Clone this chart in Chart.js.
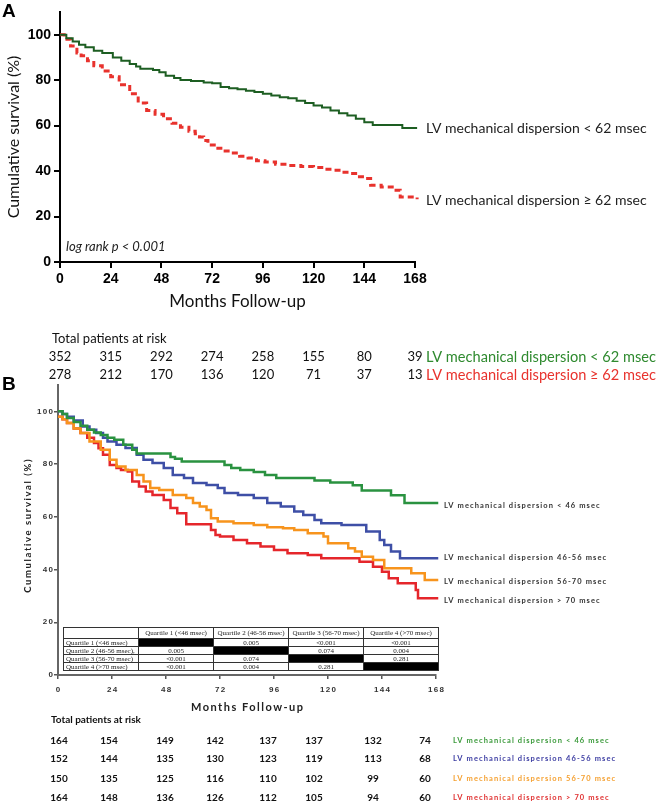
<!DOCTYPE html>
<html><head><meta charset="utf-8">
<script src="https://cdn.jsdelivr.net/npm/chart.js@4.4.1/dist/chart.umd.min.js"></script>
<style>
html,body{margin:0;padding:0;background:#fff;}
#wrap{position:relative;width:661px;height:807px;overflow:hidden;background:#fff;}
#ca{position:absolute;left:0;top:0;}
#cb{position:absolute;left:0;top:370px;}
#ptab{position:absolute;left:63px;top:627px;width:375px;border-collapse:collapse;table-layout:fixed;font-family:"Liberation Serif","Times New Roman",serif;font-size:7px;color:#222;}
#ptab td{border:1px solid #333;padding:0;text-align:center;line-height:6px;overflow:hidden;white-space:nowrap;}
#ptab td.rl{text-align:left;padding-left:2px;}
#ptab td.blk{background:#000;}
</style></head>
<body>
<div id="wrap">
<canvas id="ca" width="661" height="392"></canvas>
<canvas id="cb" width="661" height="437"></canvas>
<table id="ptab"></table>
</div>
<script>
// ---------- DATA ----------
const riskTimes = [0, 24, 48, 72, 96, 120, 144, 168];
const yTicks = [0, 20, 40, 60, 80, 100];

// Panel A
const aNames = ['LV mechanical dispersion < 62 msec', 'LV mechanical dispersion \u2265 62 msec'];
const aLowT = [0, 3, 6, 9, 12, 16, 20, 25, 29, 33, 36, 38, 44, 47, 50, 54, 57, 62, 68, 72, 76, 80, 84, 88, 92, 96, 100, 104, 108, 112, 116, 120, 124, 128, 132, 136, 140, 144, 148, 162, 169];
const aLowS = [100, 98.5, 97, 95.6, 94.5, 93, 92, 90, 88.5, 87.1, 86, 85, 84.5, 83.5, 82, 81, 80.1, 79.6, 79, 78.7, 77, 76.5, 76, 75.4, 74.8, 74, 73.3, 72.5, 72, 71, 70, 68.9, 68, 66.7, 65.5, 64.5, 63, 61.5, 60.3, 59, 59];
const aHighT = [0, 2, 5, 8, 10, 13, 16, 20, 24, 28, 33, 37, 41, 45, 49, 53, 57, 61, 64, 66, 68, 70, 73, 77, 81, 85, 89, 93, 97, 102, 108, 114, 120, 125, 129, 133, 137, 141, 144, 147, 152, 158, 161, 169];
const aHighS = [100, 98, 95, 92, 90.8, 88.5, 86.4, 84, 81.5, 78, 74, 70, 66.7, 65, 63, 61, 59.3, 57.5, 56.4, 55, 53.5, 51.5, 50, 48.8, 48, 46.5, 45.8, 44.5, 44, 43, 42.5, 42, 41.6, 40.8, 40.4, 39.5, 38.9, 37.5, 36.7, 33.8, 33, 31.6, 28.6, 27.6];
const aRiskLow = [352, 315, 292, 274, 258, 155, 80, 39];
const aRiskHigh = [278, 212, 170, 136, 120, 71, 37, 13];

// Panel B
const bNames = ['LV mechanical dispersion < 46 msec', 'LV mechanical dispersion 46-56 msec', 'LV mechanical dispersion 56-70 msec', 'LV mechanical dispersion > 70 msec'];
const bQ1T = [0, 2, 4, 7, 10, 13, 16, 19, 22, 25, 29, 33, 35, 50, 52, 55, 74, 77, 81, 87, 92, 97, 114, 121, 131, 135, 148, 154, 169];
const bQ1S = [100, 99, 97.5, 96, 94.5, 93, 92, 91, 90, 89.2, 87.3, 85.4, 84, 82.7, 82, 81, 79.7, 78.5, 77.8, 77, 75.9, 74.7, 73.8, 73, 72, 70, 68.2, 65.2, 65.2];
const bQ2T = [0, 2, 4, 7, 11, 14, 17, 20, 22, 26, 30, 35, 38, 42, 47, 51, 56, 60, 66, 71, 74, 80, 87, 93, 99, 105, 109, 114, 117, 126, 137, 143, 145, 148, 152, 169];
const bQ2S = [100, 99, 98, 96.5, 94.3, 93, 91.8, 90, 88.6, 87.3, 86.1, 83.5, 81.6, 80.4, 78.5, 75.9, 74.7, 72.8, 72.1, 70.9, 69, 68.3, 67.1, 65.2, 63.9, 62, 60.7, 58.8, 57.6, 56.9, 54.4, 51.2, 49.3, 46.8, 44.3, 44.3];
const bQ3T = [0, 2, 4, 7, 10, 14, 19, 23, 26, 30, 35, 38, 41, 45, 51, 57, 60, 63, 66, 68, 71, 78, 87, 93, 100, 105, 111, 118, 120, 129, 132, 135, 140, 145, 157, 163, 169];
const bQ3S = [98, 97, 95.6, 93.5, 91.8, 88.6, 85.4, 81.6, 79.1, 77.8, 75.9, 73.4, 70.9, 70.2, 68.3, 67.1, 65.2, 63.9, 62.6, 59.5, 58.2, 57.6, 56.9, 56, 55.7, 55, 53.8, 52.5, 50, 48.1, 46.8, 44.9, 43.6, 40.5, 38.6, 36, 36];
const bQ4T = [0, 2, 4, 7, 10, 13, 16, 18, 20, 23, 26, 28, 31, 33, 36, 39, 42, 47, 50, 53, 57, 68, 70, 72, 78, 84, 90, 96, 102, 111, 117, 134, 140, 144, 147, 151, 159, 160, 169];
const bQ4S = [98, 97, 95.6, 93.5, 91.8, 90, 88, 86, 83.5, 79.7, 78.5, 77.8, 77.2, 73.4, 71.5, 69.6, 68.3, 66.4, 63.3, 61.4, 57.2, 55, 53.1, 52.5, 51.2, 50, 48.7, 47.4, 46.2, 45.5, 44.3, 43, 41.1, 39.2, 36.7, 34.8, 32.2, 29.1, 29.1];
const bRiskQ1 = [164, 154, 149, 142, 137, 137, 132, 74];
const bRiskQ2 = [152, 144, 135, 130, 123, 119, 113, 68];
const bRiskQ3 = [150, 135, 125, 116, 110, 102, 99, 60];
const bRiskQ4 = [164, 148, 136, 126, 112, 105, 94, 60];

// p-value table
const quartileCols = ['Quartile 1 (<46 msec)', 'Quartile 2 (46-56 msec)', 'Quartile 3 (56-70 msec)', 'Quartile 4 (>70 msec)'];
const quartileRows = ['Quartile 1 (<46 msec)', 'Quartile 2 (46-56 msec),', 'Quartile 3 (56-70 msec)', 'Quartile 4 (>70 msec)'];
const pValues = [
  [null, '0.005', '<0.001', '<0.001'],
  ['0.005', null, '0.074', '0.004'],
  ['<0.001', '0.074', null, '0.281'],
  ['<0.001', '0.004', '0.281', null]
];

// ---------- STYLE / LAYOUT ----------
const A_GREEN = '#1d5e22', A_RED = '#e8322d';
const A_RISK_GREEN = '#2f8a2f', A_RISK_RED = '#e8322d';
const B_COLORS = ['#2a9240', '#3e4fa6', '#f7941d', '#e5262b'];
const B_RISK_COLORS = ['#3a9a3a', '#3b3ca2', '#f5a030', '#e03030'];
const bRiskColX = [59, 109, 165, 215, 268, 314, 373, 425];
const bRiskRowY = [371, 389, 409, 428];
const bLabelY = [136, 188, 212, 231];

function pts(T, S) { return T.map((t, i) => ({x: t, y: S[i]})); }
function km(label, T, S, color, extra) {
  return Object.assign({label, data: pts(T, S), borderColor: color, backgroundColor: color,
    borderWidth: 2, stepped: 'before', pointRadius: 0, pointHoverRadius: 0, fill: false, clip: false}, extra || {});
}

Chart.defaults.animation = false;

// ---------- PANEL A ----------
const annA = {
  id: 'annA',
  afterDraw(chart) {
    const ctx = chart.ctx, x = chart.scales.x;
    ctx.save();
    ctx.fillStyle = '#000';
    ctx.font = 'bold 19px "Liberation Sans"';
    ctx.textBaseline = 'top';
    ctx.fillText('A', 2, 2);
    ctx.textBaseline = 'middle';
    ctx.fillStyle = '#222';
    ctx.font = 'italic 13px Lato';
    ctx.fillText('log rank p < 0.001', 66, 247);
    ctx.font = '14px Lato';
    ctx.fillText(aNames[0], 426, 128);
    ctx.fillText(aNames[1], 426, 200);
    ctx.font = '13px Lato';
    ctx.fillStyle = '#111';
    ctx.fillText('Total patients at risk', 52, 339);
    ctx.textAlign = 'center';
    riskTimes.forEach((t, i) => {
      const px = x.getPixelForValue(t);
      ctx.fillText(String(aRiskLow[i]), px, 357);
      ctx.fillText(String(aRiskHigh[i]), px, 375);
    });
    ctx.textAlign = 'left';
    ctx.font = '14.6px Lato';
    ctx.fillStyle = A_RISK_GREEN;
    ctx.fillText(aNames[0], 426, 357);
    ctx.fillStyle = A_RISK_RED;
    ctx.fillText(aNames[1], 426, 375);
    ctx.restore();
  }
};

new Chart(document.getElementById('ca'), {
  type: 'line',
  data: {datasets: [
    km(aNames[0], aLowT, aLowS, A_GREEN, {borderWidth: 2}),
    km(aNames[1], aHighT, aHighS, A_RED, {borderWidth: 3, borderDash: [6, 4]})
  ]},
  options: {
    responsive: false, devicePixelRatio: 1, animation: false,
    layout: {padding: {left: 0, top: 12, right: 246, bottom: 80}},
    plugins: {legend: {display: false}, tooltip: {enabled: false}},
    scales: {
      x: {type: 'linear', min: 0, max: 168,
        afterBuildTicks: s => { s.ticks = riskTimes.map(v => ({value: v})); },
        afterFit: s => { s.height = 50; },
        grid: {display: true, drawOnChartArea: false, drawTicks: true, tickLength: 6, color: '#000', lineWidth: 2},
        border: {display: true, color: '#000', width: 2},
        ticks: {color: '#000', font: {family: 'Liberation Sans', weight: 'bold', size: 14}, padding: 3, maxRotation: 0, autoSkip: false},
        title: {display: true, text: 'Months Follow-up', color: '#111', font: {family: 'Lato', size: 17}, padding: {top: 0, bottom: 0}}
      },
      y: {type: 'linear', min: 0, max: 110,
        afterBuildTicks: s => { s.ticks = yTicks.map(v => ({value: v})); },
        afterFit: s => { s.width = 60; },
        grid: {display: true, drawOnChartArea: false, drawTicks: true, tickLength: 6, color: '#000', lineWidth: 2},
        border: {display: true, color: '#000', width: 2},
        ticks: {color: '#000', font: {family: 'Liberation Sans', weight: 'bold', size: 14}, padding: 3},
        title: {display: true, text: 'Cumulative survival (%)', color: '#111', font: {family: 'Lato', size: 16}, padding: {top: 4, bottom: 0}}
      }
    }
  },
  plugins: [annA]
});

// ---------- PANEL B ----------
function spacedWidth(ctx, s, ls) {
  const old = ctx.letterSpacing; ctx.letterSpacing = '0px';
  const w = ctx.measureText(s).width + ls * (s.length - 1);
  ctx.letterSpacing = old; return w;
}
const annB = {
  id: 'annB',
  afterDraw(chart) {
    const ctx = chart.ctx, ca = chart.chartArea, xs = chart.scales.x, ys = chart.scales.y;
    ctx.save();
    ctx.fillStyle = '#000';
    ctx.font = 'bold 19px "Liberation Sans"';
    ctx.textBaseline = 'top';
    ctx.fillText('B', 2, 5);
    ctx.textBaseline = 'middle';
    ctx.textAlign = 'left';
    // tick labels (letter-spaced), positioned by the scales
    ctx.fillStyle = '#333';
    ctx.font = 'bold 8px "Liberation Sans"';
    const ls = 1.3;
    ctx.letterSpacing = ls + 'px';
    yTicks.forEach(v => {
      const s = String(v), w = spacedWidth(ctx, s, ls);
      ctx.fillText(s, ys.left + ys.width - 5 - w, ys.getPixelForValue(v));
    });
    riskTimes.forEach(v => {
      const s = String(v), w = spacedWidth(ctx, s, ls);
      ctx.fillText(s, xs.getPixelForValue(v) - w / 2, 320);
    });
    // axis titles (letter-spaced)
    ctx.fillStyle = '#222';
    ctx.letterSpacing = '1.5px';
    ctx.font = 'bold 11px Lato';
    let w = spacedWidth(ctx, 'Months Follow-up', 1.5);
    ctx.fillText('Months Follow-up', (ca.left + ca.right) / 2 - w / 2, 337);
    ctx.save();
    ctx.translate(28, (ca.top + ca.bottom) / 2 - 4);
    ctx.rotate(-Math.PI / 2);
    ctx.letterSpacing = '1.6px';
    ctx.font = 'bold 9.5px Lato';
    w = spacedWidth(ctx, 'Cumulative survival (%)', 1.6);
    ctx.fillText('Cumulative survival (%)', -w / 2, 0);
    ctx.restore();
    // curve labels
    ctx.letterSpacing = '1.1px';
    ctx.font = 'bold 7.5px Lato';
    ctx.fillStyle = '#333';
    bNames.forEach((n, i) => ctx.fillText(n, 444, bLabelY[i]));
    // risk table
    ctx.letterSpacing = '0px';
    ctx.font = 'bold 10px Lato';
    ctx.fillStyle = '#111';
    ctx.fillText('Total patients at risk', 51, 350);
    ctx.textAlign = 'center';
    [bRiskQ1, bRiskQ2, bRiskQ3, bRiskQ4].forEach((row, r) => {
      row.forEach((v, i) => ctx.fillText(String(v), bRiskColX[i], bRiskRowY[r]));
    });
    ctx.textAlign = 'left';
    ctx.letterSpacing = '1.1px';
    ctx.font = 'bold 7.5px Lato';
    bNames.forEach((n, i) => { ctx.fillStyle = B_RISK_COLORS[i]; ctx.fillText(n, 453, bRiskRowY[i]); });
    ctx.restore();
    ctx.letterSpacing = '0px';
  }
};

new Chart(document.getElementById('cb'), {
  type: 'line',
  data: {datasets: [
    km(bNames[0], bQ1T, bQ1S, B_COLORS[0], {borderWidth: 2.5}),
    km(bNames[1], bQ2T, bQ2S, B_COLORS[1], {borderWidth: 2.5}),
    km(bNames[2], bQ3T, bQ3S, B_COLORS[2], {borderWidth: 2.5}),
    km(bNames[3], bQ4T, bQ4S, B_COLORS[3], {borderWidth: 2.5})
  ]},
  options: {
    responsive: false, devicePixelRatio: 1, animation: false,
    layout: {padding: {left: 0, top: 15, right: 225, bottom: 93}},
    plugins: {legend: {display: false}, tooltip: {enabled: false}},
    scales: {
      x: {type: 'linear', min: 0, max: 168,
        afterBuildTicks: s => { s.ticks = riskTimes.map(v => ({value: v})); },
        afterFit: s => { s.height = 39; },
        grid: {display: true, drawOnChartArea: false, drawTicks: true, tickLength: 4, color: '#555', lineWidth: 1.5},
        border: {display: true, color: '#666', width: 2},
        ticks: {display: false},
        title: {display: false}
      },
      y: {type: 'linear', min: 0, max: 110,
        afterBuildTicks: s => { s.ticks = yTicks.map(v => ({value: v})); },
        afterFit: s => { s.width = 58; },
        grid: {display: true, drawOnChartArea: false, drawTicks: true, tickLength: 4, color: '#555', lineWidth: 1.5},
        border: {display: true, color: '#666', width: 2},
        ticks: {display: false},
        title: {display: false}
      }
    }
  },
  plugins: [annB]
});

// ---------- p-value table ----------
(function buildTable() {
  const tab = document.getElementById('ptab');
  const cg = document.createElement('colgroup');
  for (let i = 0; i < 5; i++) { const c = document.createElement('col'); c.style.width = '75px'; cg.appendChild(c); }
  tab.appendChild(cg);
  const hr = document.createElement('tr'); hr.style.height = '11px';
  hr.appendChild(document.createElement('td'));
  quartileCols.forEach(h => { const td = document.createElement('td'); td.textContent = h; hr.appendChild(td); });
  tab.appendChild(hr);
  quartileRows.forEach((rl, r) => {
    const tr = document.createElement('tr'); tr.style.height = '8px';
    const th = document.createElement('td'); th.className = 'rl'; th.textContent = rl; tr.appendChild(th);
    pValues[r].forEach(v => {
      const td = document.createElement('td');
      if (v === null) td.className = 'blk'; else td.textContent = v;
      tr.appendChild(td);
    });
    tab.appendChild(tr);
  });
})();
</script>
</body></html>
